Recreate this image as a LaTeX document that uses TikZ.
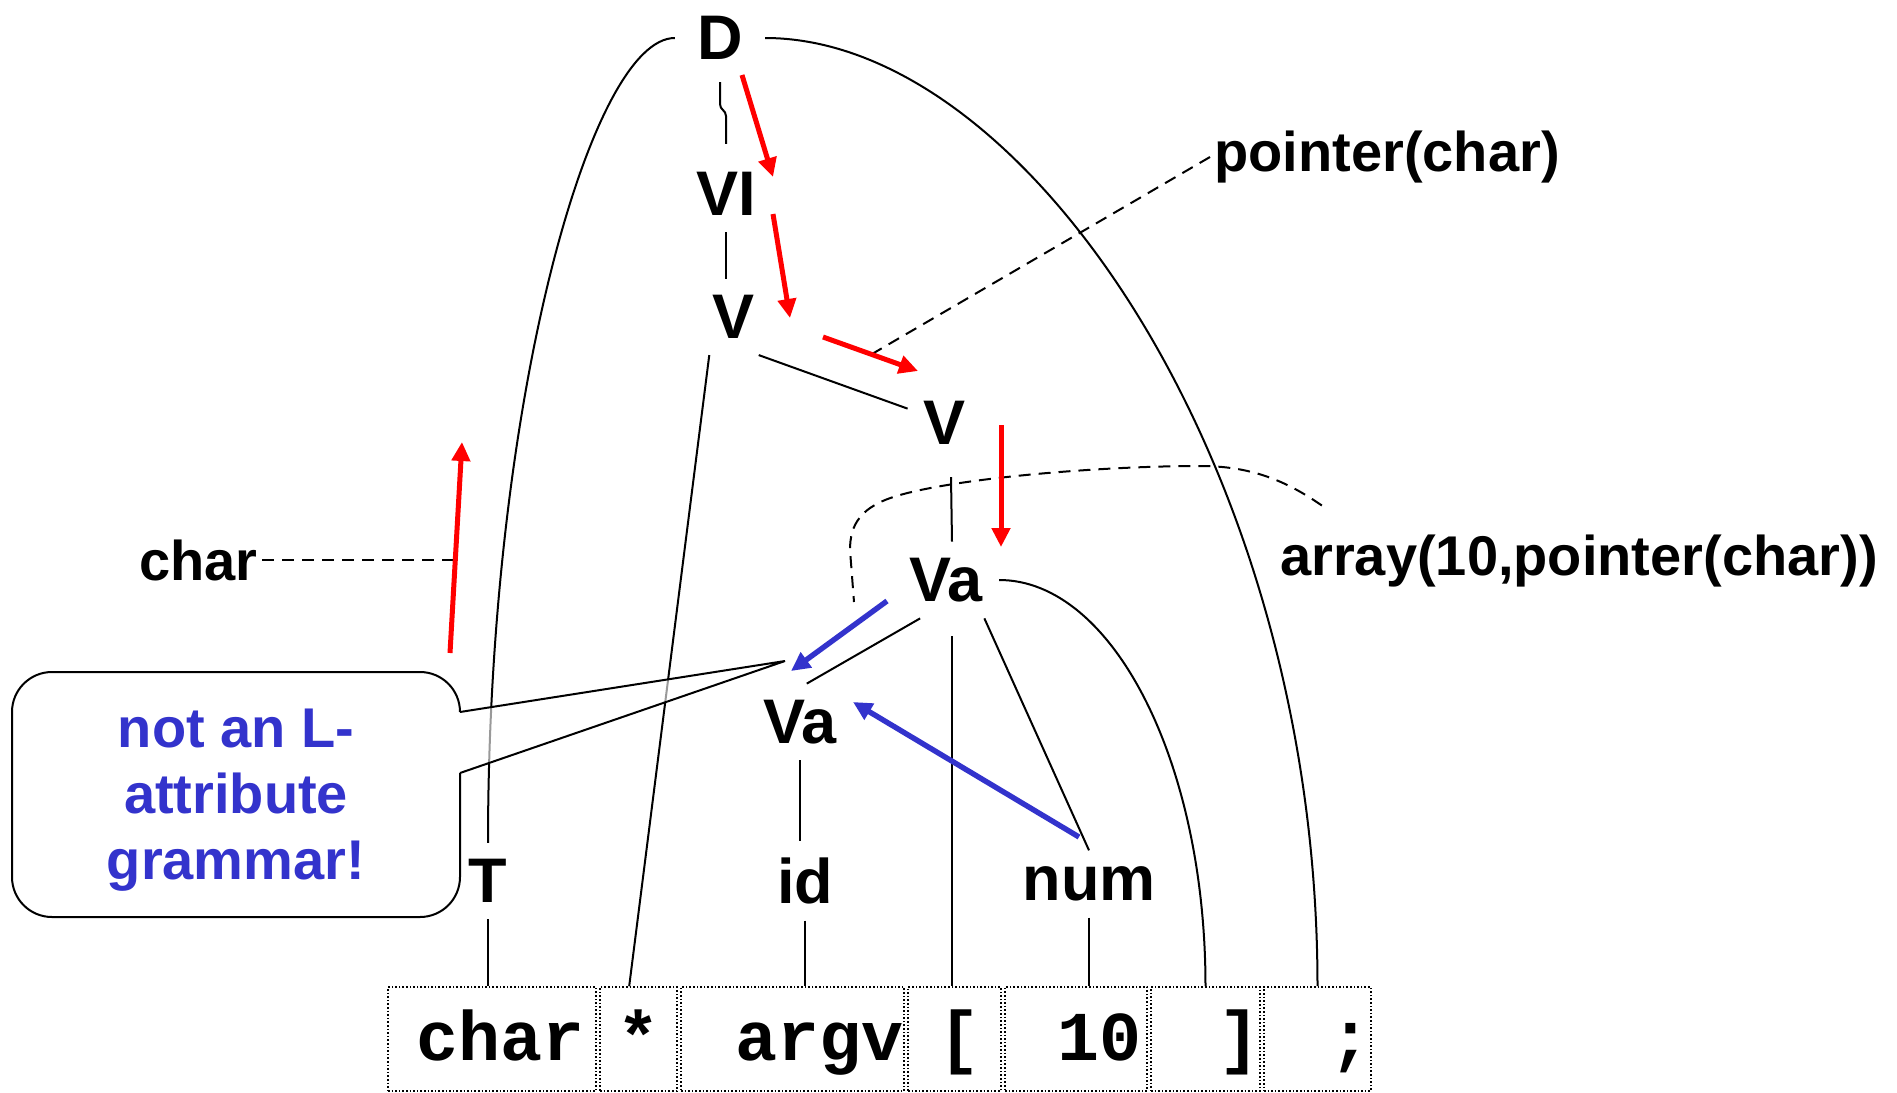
\documentclass[tikz,border=0pt]{standalone}
\usepackage{fontspec}
\setmainfont{Liberation Sans}
\newfontfamily\tokfamily{Liberation Mono}
\usetikzlibrary{arrows.meta, positioning}
\definecolor{flowblue}{RGB}{51,51,204}

\begin{document}
\begin{tikzpicture}[
    x=0.5pt, y=-0.5pt,
    sym/.style={font=\fontsize{31.5}{36}\selectfont\bfseries, inner sep=8pt},
    lbl/.style={font=\fontsize{28}{33}\selectfont\bfseries, inner sep=2pt},
    tok/.style 2 args={draw, densely dotted, line width=0.8pt, font=\fontsize{35}{40}\tokfamily\bfseries,
        text width=#1, inner xsep=#2, inner ysep=0pt, minimum height=52pt,
        text height=24pt, text depth=3pt, align=right},
    treeline/.style={line width=1pt},
    typeline/.style={line width=1pt, dash pattern=on 6pt off 4pt},
    redflow/.style={red, line width=2.5pt, -{Triangle[length=9.5pt,width=9pt]}},
    blueflow/.style={flowblue, line width=2.7pt, -{Triangle[length=9.5pt,width=9pt]}}
]
\useasboundingbox (0,0) rectangle (1897,1093);

% Parse tree
\node[sym, inner sep=11pt] (D) at (720,38) {D};
\node[sym] (VI) at (726,194) {VI};
\node[sym] (V1) at (734,317) {V};
\node[sym] (V2) at (945,423) {V};
\node[sym] (Va1) at (946,580) {Va};
\node[sym] (Va2) at (800,722) {Va};
\node[sym] (T) at (488,881) {T};
\node[sym] (id) at (805,881) {id};
\node[sym] (num) at (1089,884) {num};

% Token row
\node[tok={93pt}{5.5pt}] (bchar) at (492,1039) {char};
\node[tok={21.5pt}{8.5pt}, right=1.2pt of bchar] (bstar) {*};
\node[tok={111.5pt}{0pt}, right=1.2pt of bstar] (bargv) {argv};
\node[tok={25.5pt}{10.5pt}, right=1.2pt of bargv] (blb) {[};
\node[tok={66pt}{2.5pt}, right=1.2pt of blb] (bten) {10};
\node[tok={54.5pt}{0pt}, right=1.2pt of bten] (brb) {]};
\node[tok={53.5pt}{0pt}, right=1.2pt of brb] (bsemi) {;};

% Tree edges
\draw[treeline] (D.south) -- ++(0,22) .. controls +(0,6) and +(0,-6) .. ++(6,12) -- ([yshift=6pt]VI.north);
\draw[treeline] (VI.south) -- (VI.south |- V1.north);
\draw[treeline] (V1.-123) -- (bstar.100);
\draw[treeline] (V1.-57) -- (V2.159);
\draw[treeline] ([xshift=3pt,yshift=-8pt]V2.south) -- ([xshift=3pt]Va1.north);
\draw[treeline] (Va1.-124) -- (Va2.80);
\draw[treeline] ([xshift=3pt,yshift=-9pt]Va1.south) -- ([xshift=3pt]Va1.south |- blb.north);
\draw[treeline] (Va1.-45) -- (num.north);
\draw[treeline] (Va1.east) .. controls +(113,0) and +(0,-225) .. (brb.north);
\draw[treeline] (Va2.south) -- (Va2.south |- id.north);
\draw[treeline] (T.south) -- (T.south |- bchar.north);
\draw[treeline] (id.south) -- (id.south |- bargv.north);
\draw[treeline] (num.south) -- (num.south |- bten.north);
\draw[treeline] (D.west) .. controls +(-84,0) and +(0,-440) .. (T.north);
\draw[treeline] (D.east) .. controls +(260,0) and +(0,-520) .. (bsemi.north);

% Type labels
\node[lbl, anchor=west] (ptr) at (1210,157) {pointer(char)};
\node[lbl, anchor=east] (chr) at (262,560) {char};
\node[lbl] (arr) at (1579,561) {array(10,pointer(char))};
\coordinate (ptrend) at (872,354);
\coordinate (chrend) at (453,560);
\coordinate (arrend) at (854,602);
\draw[typeline] (ptr.west) -- (ptrend);
\draw[typeline] (chr.east) -- (chrend);
\draw[typeline] ([shift={(46,-25)}]arr.north west) .. controls (1285,480) and (1250,466) .. (1200,466)
    .. controls (1100,466) and (960,478) .. (900,495) .. controls (860,506) and (850,525) .. (850,550) -- (arrend);

% Callout
\node[lbl, text=flowblue, align=center] (warn) at (236,800) {not an L-\\attribute\\grammar!};
\coordinate (tip) at (785,661);
\draw[line width=1pt, rounded corners=20pt] (460,773) -- (460,917) -- (12,917) -- (12,672) -- (460,672) -- (460,712);
\fill[white, fill opacity=.6] (460,712) -- (tip) -- (460,773) -- cycle;
\draw[line width=1pt] (460,712) -- (tip) -- (460,773);

% Attribute flow
\coordinate (r1a) at (742,75);   \coordinate (r1b) at (773,177);
\coordinate (r2a) at (773,214);  \coordinate (r2b) at (790,318);
\coordinate (r3a) at (823,337);  \coordinate (r3b) at (918,371);
\coordinate (r4a) at (1001,425); \coordinate (r4b) at (1001,547);
\coordinate (r5a) at (450,653);  \coordinate (r5b) at (462,442);
\coordinate (b1a) at (887,601);  \coordinate (b1b) at (791,671);
\coordinate (b2a) at (1079,837); \coordinate (b2b) at (853,702);
\draw[redflow] (r1a) -- (r1b);
\draw[redflow] (r2a) -- (r2b);
\draw[redflow] (r3a) -- (r3b);
\draw[redflow] (r4a) -- (r4b);
\draw[redflow] (r5a) -- (r5b);
\draw[blueflow] (b1a) -- (b1b);
\draw[blueflow] (b2a) -- (b2b);

\end{tikzpicture}
\end{document}
